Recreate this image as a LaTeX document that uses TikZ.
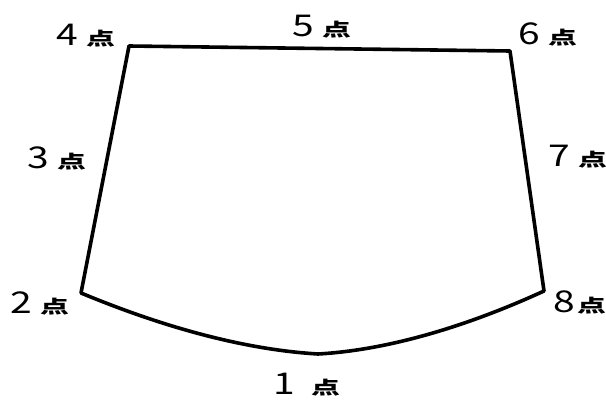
\documentclass[tikz,border=0pt]{standalone}
\usepackage{fontspec}
\setmainfont{Noto Sans CJK JP}
\newcommand{\dg}[1]{\scalebox{1.3}[1]{\fontsize{30}{30}\selectfont #1}}
\newcommand{\tn}{\scalebox{1.6}[1]{\fontsize{18}{18}\selectfont\bfseries 点}}
\newcommand{\lbl}[2][8pt]{\dg{#2}\hspace{#1}\tn}
\begin{document}
\begin{tikzpicture}[x=1pt,y=-1pt,
  edge/.style={line width=3.6pt,line join=round,line cap=round},
  lab/.style={inner sep=0pt,anchor=center}]
\useasboundingbox (0,0) rectangle (606,404);
\coordinate (p4) at (129,46);
\coordinate (p6) at (510,51);
\coordinate (p8) at (544,291);
\coordinate (p1) at (318,354);
\coordinate (p2) at (81,293);
\draw[edge] (p2) -- (p4) -- (p6) -- (p8)
  .. controls (470,325) and (390,350) .. (p1)
  .. controls (250,350) and (170,330) .. (p2);
\node[lab] (l4) at (86,36) {\lbl{4}};
\node[lab] (l5) at (322,27) {\lbl{5}};
\node[lab] (l6) at (548,34) {\lbl{6}};
\node[lab] (l3) at (57,158) {\lbl{3}};
\node[lab] (l7) at (578,157) {\lbl{7}};
\node[lab] (l2) at (40,303) {\lbl{2}};
\node[lab] (l8) at (580,302) {\lbl[2pt]{8}};
\node[lab] (l1) at (307,385) {\lbl[16pt]{1}};
\end{tikzpicture}
\end{document}
